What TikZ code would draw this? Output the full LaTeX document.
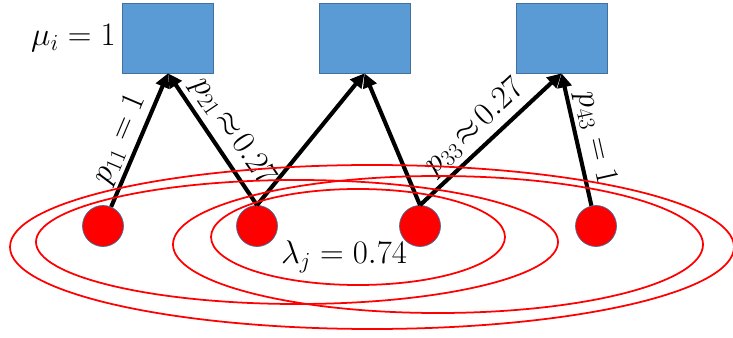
\RequirePackage{fix-cm}
\documentclass[tikz,border=0pt]{standalone}
\usepackage{amsmath,amssymb}
\usetikzlibrary{arrows.meta}
\definecolor{boxblue}{HTML}{5B9BD5}
\definecolor{edgeblue}{HTML}{41719C}
\tikzset{
  server/.style={rectangle,fill=boxblue,draw=edgeblue,line width=0.6pt,
    minimum width=2.73cm,minimum height=2.1cm,inner sep=0pt},
  source/.style={circle,fill=red,draw=edgeblue,line width=0.6pt,
    minimum size=1.23cm,inner sep=0pt},
  flow/.style={-{Triangle[length=12pt,width=12pt]},line width=3.5pt},
  cover/.style={red,line width=1.5pt},
  every picture/.style={font=\fontsize{28}{33}\selectfont}
}

\begin{document}
\begin{tikzpicture}[x=0.3mm,y=0.3mm]
  \useasboundingbox (0,0) rectangle (733,337);
  % servers
  \node[server] (srv1) at (168,299) {};
  \node[server] (srv2) at (364.5,299) {};
  \node[server] (srv3) at (561.5,299) {};
  \node[left=2pt] (mu) at (srv1.west) {$\mu_i = 1$};
  % sources
  \node[source] (src1) at (103,111) {};
  \node[source] (src2) at (257,111) {};
  \node[source] (src3) at (420,111) {};
  \node[source] (src4) at (596,111) {};
  \node (lam) at (344,80) {$\lambda_j = 0.74$};
  % routing
  \draw[flow] (src1) -- node[pos=0.45,sloped,above=-1pt] {$p_{11} = 1$} (srv1.south);
  \draw[flow] (src2.north) -- node[pos=0.47,sloped,above=1pt] {$p_{21}\mskip2mu{\approx}\mskip2mu0.27$} (srv1.south);
  \draw[flow] (src2.north) -- (srv2.south);
  \draw[flow] (src3.north) -- (srv2.south);
  \draw[flow] (src3.north) -- node[pos=0.48,sloped,above] {$p_{33}\mskip2mu{\approx}\mskip2mu0.27$} (srv3.south);
  \draw[flow] (src4) -- node[pos=0.48,sloped,above=-1pt] {$p_{43} = 1$} (srv3.south);
  % covering sets
  \draw[cover] (372,90) ellipse [x radius=10.86cm, y radius=2.46cm];
  \draw[cover] (297,95) ellipse [x radius=7.83cm, y radius=1.86cm];
  \draw[cover] (438,92.5) ellipse [x radius=7.95cm, y radius=2.055cm];
  \draw[cover] (358,100) ellipse [x radius=4.41cm, y radius=1.44cm];
\end{tikzpicture}
\end{document}
